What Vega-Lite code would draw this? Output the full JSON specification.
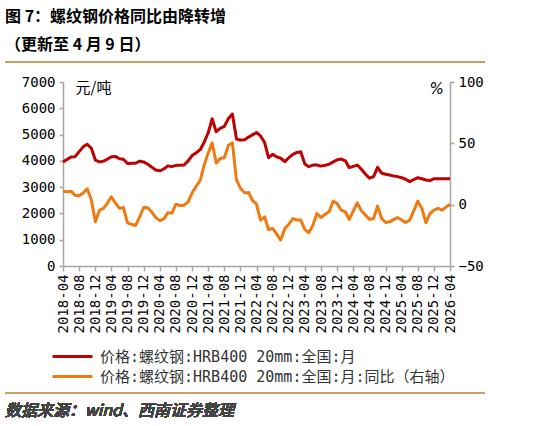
{
  "$schema": "https://vega.github.io/schema/vega-lite/v6.json",
  "autosize": {"type": "none"},
  "padding": {"left": 63, "top": 82, "right": 90, "bottom": 160},
  "width": 387,
  "height": 184,
  "background": "white",
  "title": {
    "text": "图 7：螺纹钢价格同比由降转增",
    "subtitle": "（更新至 4 月 9 日）",
    "anchor": "start",
    "frame": "group",
    "dx": -58,
    "offset": 8,
    "font": "Noto Sans CJK SC",
    "fontSize": 16,
    "fontWeight": "bold",
    "color": "black",
    "subtitleFont": "Noto Sans CJK SC",
    "subtitleFontSize": 16,
    "subtitleFontWeight": "bold",
    "subtitleColor": "black",
    "subtitlePadding": 12
  },
  "datasets": {
    "rebar": [
      {"date": "2018-04-01", "price": 3960, "yoy": 11},
      {"date": "2018-05-01", "price": 4050, "yoy": 10.5},
      {"date": "2018-06-01", "price": 4150, "yoy": 11},
      {"date": "2018-07-01", "price": 4160, "yoy": 7.7},
      {"date": "2018-08-01", "price": 4350, "yoy": 7.2},
      {"date": "2018-09-01", "price": 4540, "yoy": 9.6},
      {"date": "2018-10-01", "price": 4630, "yoy": 13},
      {"date": "2018-11-01", "price": 4480, "yoy": 4},
      {"date": "2018-12-01", "price": 4030, "yoy": -14},
      {"date": "2019-01-01", "price": 3960, "yoy": -4.5},
      {"date": "2019-02-01", "price": 3990, "yoy": -3},
      {"date": "2019-03-01", "price": 4060, "yoy": 1},
      {"date": "2019-04-01", "price": 4160, "yoy": 6.4},
      {"date": "2019-05-01", "price": 4170, "yoy": 1.5},
      {"date": "2019-06-01", "price": 4080, "yoy": -3},
      {"date": "2019-07-01", "price": 4060, "yoy": -2.3},
      {"date": "2019-08-01", "price": 3900, "yoy": -14.8},
      {"date": "2019-09-01", "price": 3910, "yoy": -16},
      {"date": "2019-10-01", "price": 3910, "yoy": -17},
      {"date": "2019-11-01", "price": 3990, "yoy": -10},
      {"date": "2019-12-01", "price": 3960, "yoy": -2.3},
      {"date": "2020-01-01", "price": 3870, "yoy": -2.5},
      {"date": "2020-02-01", "price": 3760, "yoy": -6},
      {"date": "2020-03-01", "price": 3650, "yoy": -10.5},
      {"date": "2020-04-01", "price": 3620, "yoy": -13},
      {"date": "2020-05-01", "price": 3690, "yoy": -11.6},
      {"date": "2020-06-01", "price": 3810, "yoy": -6.5},
      {"date": "2020-07-01", "price": 3780, "yoy": -7},
      {"date": "2020-08-01", "price": 3830, "yoy": 0.4},
      {"date": "2020-09-01", "price": 3830, "yoy": -0.7},
      {"date": "2020-10-01", "price": 3840, "yoy": -0.4},
      {"date": "2020-11-01", "price": 4000, "yoy": 2.3},
      {"date": "2020-12-01", "price": 4200, "yoy": 9.6},
      {"date": "2021-01-01", "price": 4310, "yoy": 15},
      {"date": "2021-02-01", "price": 4430, "yoy": 20},
      {"date": "2021-03-01", "price": 4700, "yoy": 32},
      {"date": "2021-04-01", "price": 5060, "yoy": 42},
      {"date": "2021-05-01", "price": 5600, "yoy": 50.4},
      {"date": "2021-06-01", "price": 5110, "yoy": 34},
      {"date": "2021-07-01", "price": 5240, "yoy": 37.6},
      {"date": "2021-08-01", "price": 5310, "yoy": 38.2},
      {"date": "2021-09-01", "price": 5610, "yoy": 48.5},
      {"date": "2021-10-01", "price": 5780, "yoy": 50.4},
      {"date": "2021-11-01", "price": 4830, "yoy": 20},
      {"date": "2021-12-01", "price": 4790, "yoy": 13.5},
      {"date": "2022-01-01", "price": 4800, "yoy": 9.6},
      {"date": "2022-02-01", "price": 4910, "yoy": 10},
      {"date": "2022-03-01", "price": 4990, "yoy": 3.6},
      {"date": "2022-04-01", "price": 5080, "yoy": 0.4},
      {"date": "2022-05-01", "price": 4950, "yoy": -12.6},
      {"date": "2022-06-01", "price": 4700, "yoy": -9.9},
      {"date": "2022-07-01", "price": 4120, "yoy": -20.2},
      {"date": "2022-08-01", "price": 4250, "yoy": -19.4},
      {"date": "2022-09-01", "price": 4150, "yoy": -24},
      {"date": "2022-10-01", "price": 4100, "yoy": -28.9},
      {"date": "2022-11-01", "price": 3970, "yoy": -19.4},
      {"date": "2022-12-01", "price": 4120, "yoy": -15.9},
      {"date": "2023-01-01", "price": 4250, "yoy": -11.3},
      {"date": "2023-02-01", "price": 4320, "yoy": -12.6},
      {"date": "2023-03-01", "price": 4350, "yoy": -12.6},
      {"date": "2023-04-01", "price": 3880, "yoy": -20.2},
      {"date": "2023-05-01", "price": 3780, "yoy": -22.9},
      {"date": "2023-06-01", "price": 3840, "yoy": -16.7},
      {"date": "2023-07-01", "price": 3840, "yoy": -7.2},
      {"date": "2023-08-01", "price": 3800, "yoy": -10.5},
      {"date": "2023-09-01", "price": 3830, "yoy": -7.8},
      {"date": "2023-10-01", "price": 3870, "yoy": -5.8},
      {"date": "2023-11-01", "price": 3960, "yoy": 2.9},
      {"date": "2023-12-01", "price": 4040, "yoy": 1},
      {"date": "2024-01-01", "price": 4070, "yoy": -4.5},
      {"date": "2024-02-01", "price": 4000, "yoy": -5.8},
      {"date": "2024-03-01", "price": 3740, "yoy": -12},
      {"date": "2024-04-01", "price": 3790, "yoy": -5},
      {"date": "2024-05-01", "price": 3840, "yoy": 1.5},
      {"date": "2024-06-01", "price": 3680, "yoy": -5},
      {"date": "2024-07-01", "price": 3500, "yoy": -8.5},
      {"date": "2024-08-01", "price": 3340, "yoy": -12},
      {"date": "2024-09-01", "price": 3400, "yoy": -11.3},
      {"date": "2024-10-01", "price": 3750, "yoy": -1.2},
      {"date": "2024-11-01", "price": 3530, "yoy": -11.3},
      {"date": "2024-12-01", "price": 3490, "yoy": -14.5},
      {"date": "2025-01-01", "price": 3460, "yoy": -14},
      {"date": "2025-02-01", "price": 3420, "yoy": -12},
      {"date": "2025-03-01", "price": 3400, "yoy": -10.5},
      {"date": "2025-04-01", "price": 3360, "yoy": -12.5},
      {"date": "2025-05-01", "price": 3300, "yoy": -14.5},
      {"date": "2025-06-01", "price": 3210, "yoy": -12.6},
      {"date": "2025-07-01", "price": 3290, "yoy": -5},
      {"date": "2025-08-01", "price": 3360, "yoy": 2.9},
      {"date": "2025-09-01", "price": 3320, "yoy": -3.1},
      {"date": "2025-10-01", "price": 3270, "yoy": -14.8},
      {"date": "2025-11-01", "price": 3250, "yoy": -7.2},
      {"date": "2025-12-01", "price": 3320, "yoy": -4.5},
      {"date": "2026-01-01", "price": 3320, "yoy": -3.1},
      {"date": "2026-02-01", "price": 3320, "yoy": -4.5},
      {"date": "2026-03-01", "price": 3320, "yoy": -2},
      {"date": "2026-04-01", "price": 3320, "yoy": 0.4}
    ]
  },
  "data": {"name": "rebar"},
  "layer": [
    {
      "layer": [
        {
          "mark": {"type": "line", "strokeWidth": 3, "strokeJoin": "round"},
          "encoding": {
            "x": {
              "field": "date",
              "type": "temporal",
              "title": null,
              "scale": {
                "type": "utc",
                "domain": [
                  {"year": 2018, "month": 4, "date": 1, "utc": true},
                  {"year": 2026, "month": 4, "date": 1, "utc": true}
                ]
              },
              "axis": {
                "format": "%Y-%m",
                "labelAngle": -90,
                "labelFont": "DejaVu Sans Mono",
                "labelFontSize": 14,
                "labelPadding": 3,
                "tickSize": 5,
                "tickCount": 40,
                "labelOverlap": false,
                "labelBound": false,
                "labelFlush": false,
                "values": [
                  {"year": 2018, "month": 4, "date": 1, "utc": true},
                  {"year": 2018, "month": 8, "date": 1, "utc": true},
                  {"year": 2018, "month": 12, "date": 1, "utc": true},
                  {"year": 2019, "month": 4, "date": 1, "utc": true},
                  {"year": 2019, "month": 8, "date": 1, "utc": true},
                  {"year": 2019, "month": 12, "date": 1, "utc": true},
                  {"year": 2020, "month": 4, "date": 1, "utc": true},
                  {"year": 2020, "month": 8, "date": 1, "utc": true},
                  {"year": 2020, "month": 12, "date": 1, "utc": true},
                  {"year": 2021, "month": 4, "date": 1, "utc": true},
                  {"year": 2021, "month": 8, "date": 1, "utc": true},
                  {"year": 2021, "month": 12, "date": 1, "utc": true},
                  {"year": 2022, "month": 4, "date": 1, "utc": true},
                  {"year": 2022, "month": 8, "date": 1, "utc": true},
                  {"year": 2022, "month": 12, "date": 1, "utc": true},
                  {"year": 2023, "month": 4, "date": 1, "utc": true},
                  {"year": 2023, "month": 8, "date": 1, "utc": true},
                  {"year": 2023, "month": 12, "date": 1, "utc": true},
                  {"year": 2024, "month": 4, "date": 1, "utc": true},
                  {"year": 2024, "month": 8, "date": 1, "utc": true},
                  {"year": 2024, "month": 12, "date": 1, "utc": true},
                  {"year": 2025, "month": 4, "date": 1, "utc": true},
                  {"year": 2025, "month": 8, "date": 1, "utc": true},
                  {"year": 2025, "month": 12, "date": 1, "utc": true},
                  {"year": 2026, "month": 4, "date": 1, "utc": true}
                ]
              }
            },
            "y": {
              "field": "price",
              "type": "quantitative",
              "scale": {"domain": [0, 7000], "nice": false},
              "axis": {
                "orient": "left",
                "values": [0, 1000, 2000, 3000, 4000, 5000, 6000, 7000],
                "tickCount": 20,
                "format": "d",
                "labelOverlap": false,
                "labelFont": "DejaVu Sans Mono",
                "labelFontSize": 14,
                "labelPadding": 4,
                "tickSize": 4,
                "title": "元/吨",
                "titleAngle": 0,
                "titleAlign": "left",
                "titleBaseline": "middle",
                "titleX": 12,
                "titleY": 5,
                "titleFont": "Noto Sans CJK SC",
                "titleFontSize": 15,
                "titleFontWeight": "normal"
              }
            },
            "color": {
              "datum": "价格:螺纹钢:HRB400 20mm:全国:月",
              "type": "nominal",
              "scale": {
                "domain": ["价格:螺纹钢:HRB400 20mm:全国:月", "价格:螺纹钢:HRB400 20mm:全国:月:同比（右轴）"],
                "range": ["#C00000", "#EE7A12"]
              },
              "legend": {
                "orient": "none",
                "legendX": -2,
                "legendY": 263,
                "title": null,
                "padding": 0,
                "symbolType": "M-2,0H2",
                "symbolSize": 400,
                "symbolStrokeWidth": 3,
                "labelFont": "DejaVu Sans Mono, Noto Sans CJK SC",
                "labelFontSize": 15,
                "labelOffset": 16,
                "labelLimit": 500,
                "rowPadding": 0,
                "labelColor": "#333333"
              }
            }
          }
        },
        {
          "mark": {"type": "rule", "color": "#C9A063", "strokeWidth": 1.5},
          "encoding": {
            "x": {"datum": {"year": 2017, "month": 1, "date": 18, "utc": true}, "type": "temporal"},
            "x2": {"datum": {"year": 2026, "month": 12, "date": 16, "utc": true}},
            "y": {"datum": 7761, "type": "quantitative"}
          }
        },
        {
          "mark": {"type": "rule", "color": "#C9A063", "strokeWidth": 1.5},
          "encoding": {
            "x": {"datum": {"year": 2017, "month": 1, "date": 18, "utc": true}, "type": "temporal"},
            "x2": {"datum": {"year": 2026, "month": 12, "date": 16, "utc": true}},
            "y": {"datum": -4832, "type": "quantitative"}
          }
        },
        {
          "mark": {
            "type": "text",
            "align": "left",
            "baseline": "middle",
            "font": "Noto Sans CJK SC",
            "fontSize": 16,
            "fontStyle": "italic",
            "fontWeight": "normal",
            "color": "#444444"
          },
          "encoding": {
            "x": {"datum": {"year": 2017, "month": 1, "date": 18, "utc": true}, "type": "temporal"},
            "y": {"datum": -5516, "type": "quantitative"},
            "text": {"value": "数据来源：wind、西南证券整理"}
          }
        }
      ]
    },
    {
      "mark": {"type": "line", "strokeWidth": 3, "strokeJoin": "round"},
      "encoding": {
        "x": {"field": "date", "type": "temporal", "title": null},
        "y": {
          "field": "yoy",
          "type": "quantitative",
          "scale": {"domain": [-50, 100], "nice": false},
          "axis": {
            "orient": "right",
            "values": [-50, 0, 50, 100],
            "tickCount": 20,
            "format": "d",
            "labelOverlap": false,
            "labelFont": "DejaVu Sans Mono",
            "labelFontSize": 14,
            "labelPadding": 4,
            "tickSize": 4,
            "title": "%",
            "titleAngle": 0,
            "titleAlign": "center",
            "titleBaseline": "middle",
            "titleX": -14,
            "titleY": 6,
            "titleFont": "DejaVu Sans",
            "titleFontSize": 15,
            "titleFontWeight": "normal",
            "titleFontStyle": "italic"
          }
        },
        "color": {"datum": "价格:螺纹钢:HRB400 20mm:全国:月:同比（右轴）", "type": "nominal"}
      }
    }
  ],
  "resolve": {"scale": {"y": "independent"}},
  "config": {
    "view": {"stroke": null},
    "axis": {
      "grid": false,
      "labelOverlap": false,
      "domainColor": "#A6A6A6",
      "domainWidth": 1.5,
      "tickColor": "#A6A6A6",
      "tickWidth": 1.5,
      "labelColor": "#000000",
      "titleColor": "#000000"
    }
  }
}
